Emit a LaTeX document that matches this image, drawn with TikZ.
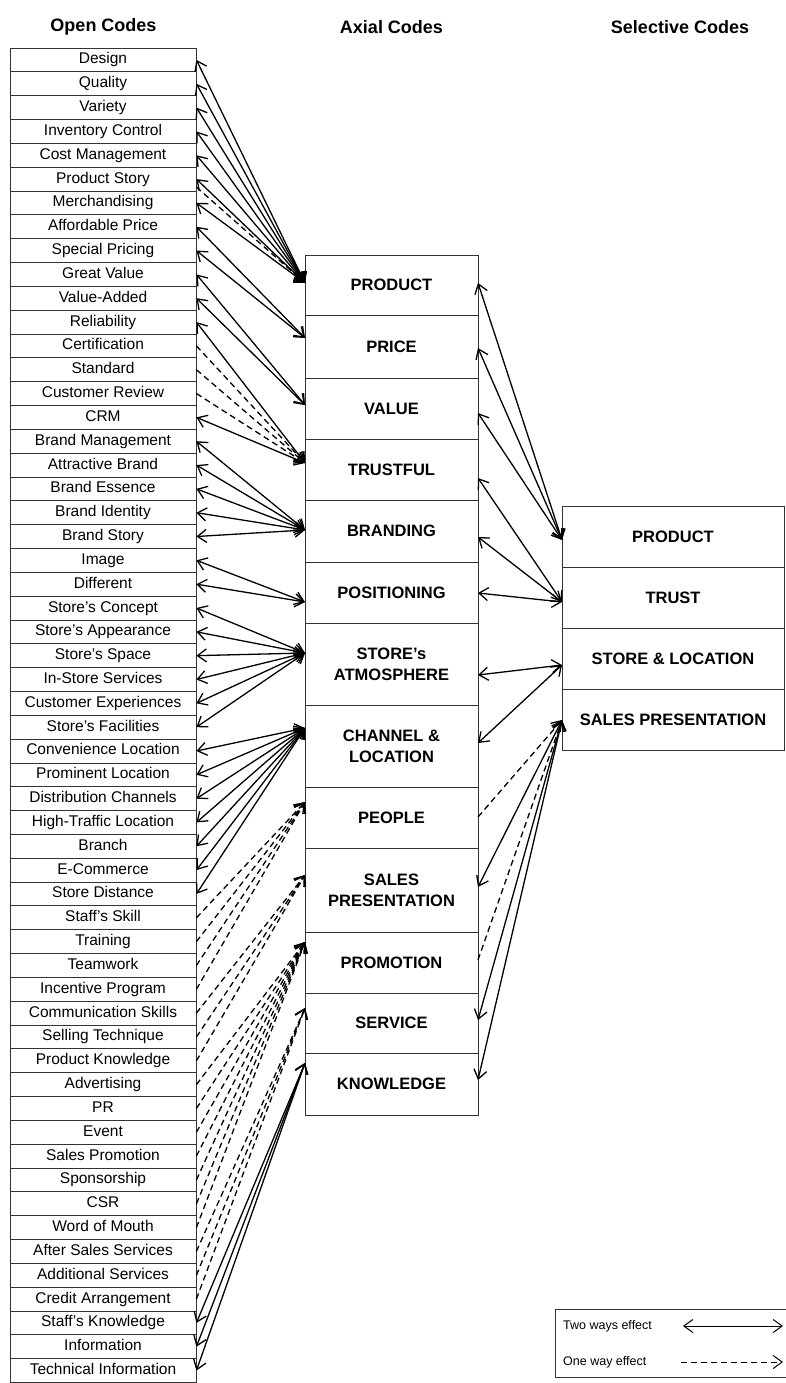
\documentclass[tikz,border=0pt]{standalone}
\usepackage{fontspec}
\setmainfont{Liberation Sans}
\usetikzlibrary{arrows.meta}
\begin{document}
\begin{tikzpicture}[x=1pt,y=-1pt,
  >={Straight Barb[length=9pt,width=13pt]},
  conn/.style={line width=1.3pt},
  twoway/.style={conn,<->},
  oneway/.style={conn,->,dash pattern=on 6pt off 4pt},
  openbox/.style={draw=black!80,line width=0.8pt,minimum width=186pt,minimum height=23.83pt,inner sep=0pt,text height=11.5pt,text depth=3.5pt,font=\fontsize{15.5}{17}\selectfont},
  axbox/.style={draw=black!80,line width=0.8pt,minimum width=173pt,inner sep=0pt,align=center,font=\bfseries\fontsize{16.5}{21}\selectfont},
  selbox/.style={draw=black!80,line width=0.8pt,minimum width=222pt,minimum height=61pt,inner sep=0pt,font=\bfseries\fontsize{16.5}{20}\selectfont},
  header/.style={font=\bfseries\fontsize{18}{20}\selectfont},
  legtext/.style={font=\fontsize{12.5}{14}\selectfont,anchor=west,inner sep=0pt}]
\useasboundingbox (0,0) rectangle (785,1383);
\fill[white] (0,0) rectangle (785,1383);

% headers
\node[header] (hOpen) at (103.5,27) {Open Codes};
\node[header] (hAxial) at (391.5,27) {Axial Codes};
\node[header] (hSel) at (680,27) {Selective Codes};

% open codes
\foreach \t [count=\i from 0] in {Design,Quality,Variety,Inventory Control,Cost Management,Product Story,Merchandising,Affordable Price,Special Pricing,Great Value,Value-Added,Reliability,Certification,Standard,Customer Review,CRM,Brand Management,Attractive Brand,Brand Essence,Brand Identity,Brand Story,Image,Different,Store's Concept,Store's Appearance,Store's Space,In-Store Services,Customer Experiences,Store's Facilities,Convenience Location,Prominent Location,Distribution Channels,High-Traffic Location,Branch,E-Commerce,Store Distance,Staff's Skill,Training,Teamwork,Incentive Program,Communication Skills,Selling Technique,Product Knowledge,Advertising,PR,Event,Sales Promotion,Sponsorship,CSR,Word of Mouth,After Sales Services,Additional Services,Credit Arrangement,Staff's Knowledge,Information,Technical Information} {
  \pgfmathsetmacro\yy{48+(\i+0.5)*23.83}
  \node[openbox] (o\i) at (103,\yy) {\t};
}

% axial codes
\node[axbox,minimum height=60pt] (aProduct) at (391.5,285) {PRODUCT};
\node[axbox,minimum height=63pt] (aPrice) at (391.5,346.5) {PRICE};
\node[axbox,minimum height=61pt] (aValue) at (391.5,408.5) {VALUE};
\node[axbox,minimum height=61pt] (aTrust) at (391.5,469.5) {TRUSTFUL};
\node[axbox,minimum height=62pt] (aBrand) at (391.5,531) {BRANDING};
\node[axbox,minimum height=61pt] (aPos) at (391.5,592.5) {POSITIONING};
\node[axbox,minimum height=82pt] (aStore) at (391.5,664) {STORE's\\ATMOSPHERE};
\node[axbox,minimum height=82pt] (aChan) at (391.5,746) {CHANNEL \&\\LOCATION};
\node[axbox,minimum height=61pt] (aPeople) at (391.5,817.5) {PEOPLE};
\node[axbox,minimum height=84pt] (aSales) at (391.5,890) {SALES\\PRESENTATION};
\node[axbox,minimum height=61pt] (aPromo) at (391.5,962.5) {PROMOTION};
\node[axbox,minimum height=60pt] (aServ) at (391.5,1023) {SERVICE};
\node[axbox,minimum height=62pt] (aKnow) at (391.5,1084) {KNOWLEDGE};

% selective codes
\node[selbox] (sProduct) at (673,536.5) {PRODUCT};
\node[selbox] (sTrust) at (673,597.5) {TRUST};
\node[selbox] (sStore) at (673,658.5) {STORE \& LOCATION};
\node[selbox] (sSales) at (673,719.5) {SALES PRESENTATION};

% targets on the left side of axial boxes
\coordinate (tProduct) at (305,283);
\coordinate (tPrice) at (305,338);
\coordinate (tValue) at (305,405);
\coordinate (tTrust) at (305,463);
\coordinate (tBrand) at (305,530);
\coordinate (tPos) at (305,602);
\coordinate (tStore) at (305,653);
\coordinate (tChan) at (305,728);
\coordinate (tPeople) at (305,802);
\coordinate (tSales) at (305,875);
\coordinate (tPromo) at (305,942);
\coordinate (tServ) at (305,1008);
\coordinate (tKnow) at (305,1063);

% open -> axial
\foreach \i in {0,...,6} \draw[twoway] (o\i.east) -- (tProduct);
\draw[oneway] ([yshift=-8pt]o5.east) -- (tProduct);
\foreach \i in {7,8} \draw[twoway] (o\i.east) -- (tPrice);
\foreach \i in {9,10} \draw[twoway] (o\i.east) -- (tValue);
\foreach \i in {11,15} \draw[twoway] (o\i.east) -- (tTrust);
\foreach \i in {12,13,14} \draw[oneway] (o\i.east) -- (tTrust);
\foreach \i in {16,...,20} \draw[twoway] (o\i.east) -- (tBrand);
\foreach \i in {21,22} \draw[twoway] (o\i.east) -- (tPos);
\foreach \i in {23,...,28} \draw[twoway] (o\i.east) -- (tStore);
\foreach \i in {29,...,35} \draw[twoway] (o\i.east) -- (tChan);
\foreach \i in {36,...,39} \draw[oneway] (o\i.east) -- (tPeople);
\foreach \i in {40,...,42} \draw[oneway] (o\i.east) -- (tSales);
\foreach \i in {43,...,49} \draw[oneway] (o\i.east) -- (tPromo);
\foreach \i in {50,...,52} \draw[oneway] (o\i.east) -- (tServ);
\foreach \i in {53,...,55} \draw[twoway] (o\i.east) -- (tKnow);

% right side of axial boxes
\coordinate (rProduct) at (478,283);
\coordinate (rPrice) at (478,348);
\coordinate (rValue) at (478,413);
\coordinate (rTrust) at (478,478);
\coordinate (rBrand) at (478,537);
\coordinate (rPos) at (478,593);
\coordinate (rStore) at (478,675);
\coordinate (rChan) at (478,743);
\coordinate (rPeople) at (478,817);
\coordinate (rSales) at (478,887);
\coordinate (rPromo) at (478,960);
\coordinate (rServ) at (478,1020);
\coordinate (rKnow) at (478,1080);
% left side of selective boxes
\coordinate (lsProduct) at (562,540);
\coordinate (lsTrust) at (562,602);
\coordinate (lsStore) at (562,665);
\coordinate (lsSales) at (562,720);

\foreach \a in {rProduct,rPrice,rValue} \draw[twoway] (\a) -- (lsProduct);
\foreach \a in {rTrust,rBrand,rPos} \draw[twoway] (\a) -- (lsTrust);
\foreach \a in {rStore,rChan} \draw[twoway] (\a) -- (lsStore);
\foreach \a in {rSales,rServ,rKnow} \draw[twoway] (lsSales) -- (\a);
\foreach \a in {rPeople,rPromo} \draw[oneway] (\a) -- (lsSales);

% legend
\node[draw=black!80,line width=0.8pt,minimum width=232pt,minimum height=68pt,inner sep=0pt] (legend) at (671,1343) {};
\node[legtext] (lTwo) at (563,1326) {Two ways effect};
\node[legtext] (lOne) at (563,1362) {One way effect};
\coordinate (lTwoA) at (683,1326);
\coordinate (lTwoB) at (783,1326);
\coordinate (lOneA) at (681,1362);
\coordinate (lOneB) at (783,1362);
\draw[twoway,line width=1pt] (lTwoA) -- (lTwoB);
\draw[oneway,line width=1pt] (lOneA) -- (lOneB);
\end{tikzpicture}
\end{document}
